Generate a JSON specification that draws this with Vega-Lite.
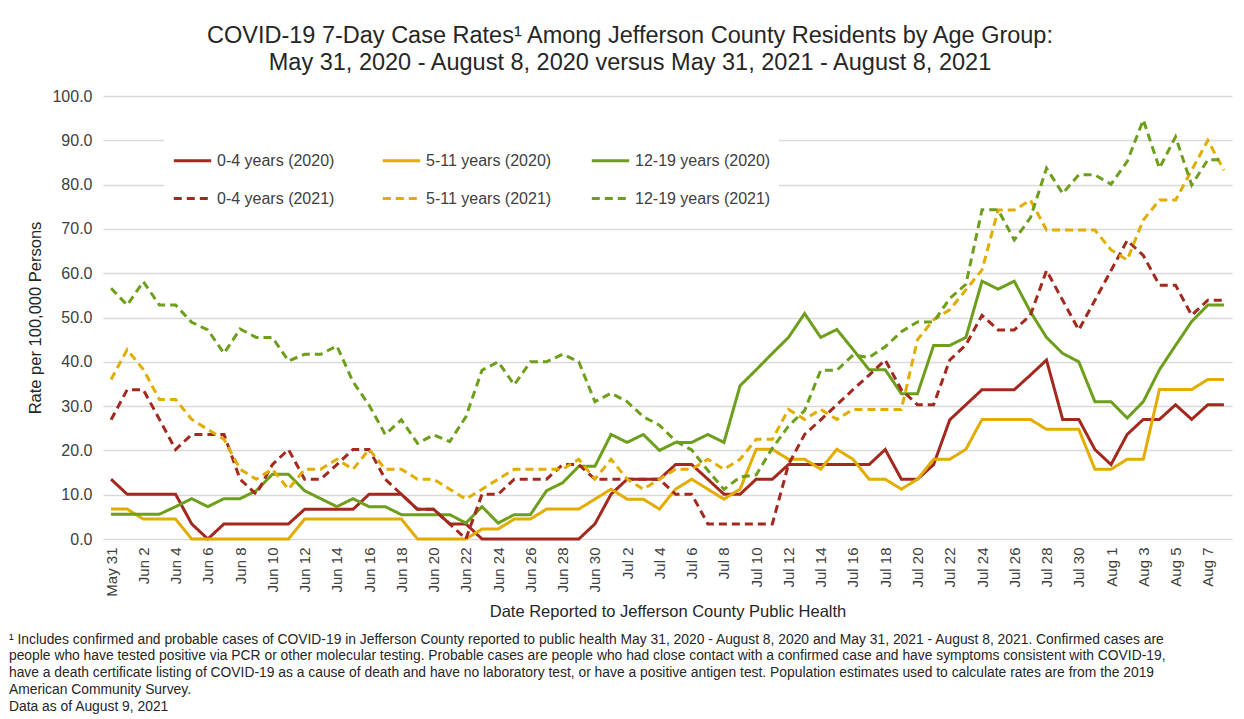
{
  "$schema": "https://vega.github.io/schema/vega-lite/v6.json",
  "padding": {"left": 8, "top": 23, "right": 5, "bottom": 5},
  "config": {"view": {"stroke": null}, "font": "Liberation Sans"},
  "title": {
    "text": [
      "¹ Includes confirmed and probable cases of COVID-19 in Jefferson County reported to public health May 31, 2020 - August 8, 2020 and May 31, 2021 - August 8, 2021. Confirmed cases are",
      "people who have tested positive via PCR or other molecular testing. Probable cases are people who had close contact with a confirmed case and have symptoms consistent with COVID-19,",
      "have a death certificate listing of COVID-19 as a cause of death and have no laboratory test, or have a positive antigen test. Population estimates used to calculate rates are from the 2019",
      "American Community Survey.",
      "Data as of August 9, 2021"
    ],
    "orient": "bottom", "anchor": "start", "frame": "bounds",
    "fontSize": 13.85, "lineHeight": 16.8, "fontWeight": "normal", "color": "#262626",
    "offset": 13, "dx": -19
  },
  "vconcat": [
    {
      "width": 1129,
      "height": 443,
      "title": {
        "text": ["COVID-19 7-Day Case Rates¹ Among Jefferson County Residents by Age Group:", "May 31, 2020 - August 8, 2020 versus May 31, 2021 - August 8, 2021"],
        "fontSize": 23.5, "lineHeight": 27, "fontWeight": "normal", "color": "#262626",
        "anchor": "middle", "frame": "bounds", "offset": 14
      },
      "data": {"values": [
{"date":"May 31","series":"0-4 years (2020)","rate":13.5},{"date":"Jun 1","series":"0-4 years (2020)","rate":10.1},{"date":"Jun 2","series":"0-4 years (2020)","rate":10.1},{"date":"Jun 3","series":"0-4 years (2020)","rate":10.1},{"date":"Jun 4","series":"0-4 years (2020)","rate":10.1},{"date":"Jun 5","series":"0-4 years (2020)","rate":3.4},{"date":"Jun 6","series":"0-4 years (2020)","rate":0},{"date":"Jun 7","series":"0-4 years (2020)","rate":3.4},{"date":"Jun 8","series":"0-4 years (2020)","rate":3.4},{"date":"Jun 9","series":"0-4 years (2020)","rate":3.4},
{"date":"Jun 10","series":"0-4 years (2020)","rate":3.4},{"date":"Jun 11","series":"0-4 years (2020)","rate":3.4},{"date":"Jun 12","series":"0-4 years (2020)","rate":6.7},{"date":"Jun 13","series":"0-4 years (2020)","rate":6.7},{"date":"Jun 14","series":"0-4 years (2020)","rate":6.7},{"date":"Jun 15","series":"0-4 years (2020)","rate":6.7},{"date":"Jun 16","series":"0-4 years (2020)","rate":10.1},{"date":"Jun 17","series":"0-4 years (2020)","rate":10.1},{"date":"Jun 18","series":"0-4 years (2020)","rate":10.1},{"date":"Jun 19","series":"0-4 years (2020)","rate":6.7},
{"date":"Jun 20","series":"0-4 years (2020)","rate":6.7},{"date":"Jun 21","series":"0-4 years (2020)","rate":3.4},{"date":"Jun 22","series":"0-4 years (2020)","rate":3.4},{"date":"Jun 23","series":"0-4 years (2020)","rate":0},{"date":"Jun 24","series":"0-4 years (2020)","rate":0},{"date":"Jun 25","series":"0-4 years (2020)","rate":0},{"date":"Jun 26","series":"0-4 years (2020)","rate":0},{"date":"Jun 27","series":"0-4 years (2020)","rate":0},{"date":"Jun 28","series":"0-4 years (2020)","rate":0},{"date":"Jun 29","series":"0-4 years (2020)","rate":0},
{"date":"Jun 30","series":"0-4 years (2020)","rate":3.4},{"date":"Jul 1","series":"0-4 years (2020)","rate":10.1},{"date":"Jul 2","series":"0-4 years (2020)","rate":13.5},{"date":"Jul 3","series":"0-4 years (2020)","rate":13.5},{"date":"Jul 4","series":"0-4 years (2020)","rate":13.5},{"date":"Jul 5","series":"0-4 years (2020)","rate":16.8},{"date":"Jul 6","series":"0-4 years (2020)","rate":16.8},{"date":"Jul 7","series":"0-4 years (2020)","rate":13.5},{"date":"Jul 8","series":"0-4 years (2020)","rate":10.1},{"date":"Jul 9","series":"0-4 years (2020)","rate":10.1},
{"date":"Jul 10","series":"0-4 years (2020)","rate":13.5},{"date":"Jul 11","series":"0-4 years (2020)","rate":13.5},{"date":"Jul 12","series":"0-4 years (2020)","rate":16.8},{"date":"Jul 13","series":"0-4 years (2020)","rate":16.8},{"date":"Jul 14","series":"0-4 years (2020)","rate":16.8},{"date":"Jul 15","series":"0-4 years (2020)","rate":16.8},{"date":"Jul 16","series":"0-4 years (2020)","rate":16.8},{"date":"Jul 17","series":"0-4 years (2020)","rate":16.8},{"date":"Jul 18","series":"0-4 years (2020)","rate":20.2},{"date":"Jul 19","series":"0-4 years (2020)","rate":13.5},
{"date":"Jul 20","series":"0-4 years (2020)","rate":13.5},{"date":"Jul 21","series":"0-4 years (2020)","rate":16.8},{"date":"Jul 22","series":"0-4 years (2020)","rate":26.9},{"date":"Jul 23","series":"0-4 years (2020)","rate":30.3},{"date":"Jul 24","series":"0-4 years (2020)","rate":33.7},{"date":"Jul 25","series":"0-4 years (2020)","rate":33.7},{"date":"Jul 26","series":"0-4 years (2020)","rate":33.7},{"date":"Jul 27","series":"0-4 years (2020)","rate":37.0},{"date":"Jul 28","series":"0-4 years (2020)","rate":40.4},{"date":"Jul 29","series":"0-4 years (2020)","rate":27.0},
{"date":"Jul 30","series":"0-4 years (2020)","rate":27.0},{"date":"Jul 31","series":"0-4 years (2020)","rate":20.2},{"date":"Aug 1","series":"0-4 years (2020)","rate":16.8},{"date":"Aug 2","series":"0-4 years (2020)","rate":23.6},{"date":"Aug 3","series":"0-4 years (2020)","rate":27.0},{"date":"Aug 4","series":"0-4 years (2020)","rate":27.0},{"date":"Aug 5","series":"0-4 years (2020)","rate":30.3},{"date":"Aug 6","series":"0-4 years (2020)","rate":27.0},{"date":"Aug 7","series":"0-4 years (2020)","rate":30.3},{"date":"Aug 8","series":"0-4 years (2020)","rate":30.3},

{"date":"May 31","series":"5-11 years (2020)","rate":6.75},{"date":"Jun 1","series":"5-11 years (2020)","rate":6.75},{"date":"Jun 2","series":"5-11 years (2020)","rate":4.5},{"date":"Jun 3","series":"5-11 years (2020)","rate":4.5},{"date":"Jun 4","series":"5-11 years (2020)","rate":4.5},{"date":"Jun 5","series":"5-11 years (2020)","rate":0},{"date":"Jun 6","series":"5-11 years (2020)","rate":0},{"date":"Jun 7","series":"5-11 years (2020)","rate":0},{"date":"Jun 8","series":"5-11 years (2020)","rate":0},{"date":"Jun 9","series":"5-11 years (2020)","rate":0},
{"date":"Jun 10","series":"5-11 years (2020)","rate":0},{"date":"Jun 11","series":"5-11 years (2020)","rate":0},{"date":"Jun 12","series":"5-11 years (2020)","rate":4.5},{"date":"Jun 13","series":"5-11 years (2020)","rate":4.5},{"date":"Jun 14","series":"5-11 years (2020)","rate":4.5},{"date":"Jun 15","series":"5-11 years (2020)","rate":4.5},{"date":"Jun 16","series":"5-11 years (2020)","rate":4.5},{"date":"Jun 17","series":"5-11 years (2020)","rate":4.5},{"date":"Jun 18","series":"5-11 years (2020)","rate":4.5},{"date":"Jun 19","series":"5-11 years (2020)","rate":0},
{"date":"Jun 20","series":"5-11 years (2020)","rate":0},{"date":"Jun 21","series":"5-11 years (2020)","rate":0},{"date":"Jun 22","series":"5-11 years (2020)","rate":0},{"date":"Jun 23","series":"5-11 years (2020)","rate":2.25},{"date":"Jun 24","series":"5-11 years (2020)","rate":2.25},{"date":"Jun 25","series":"5-11 years (2020)","rate":4.5},{"date":"Jun 26","series":"5-11 years (2020)","rate":4.5},{"date":"Jun 27","series":"5-11 years (2020)","rate":6.75},{"date":"Jun 28","series":"5-11 years (2020)","rate":6.75},{"date":"Jun 29","series":"5-11 years (2020)","rate":6.75},
{"date":"Jun 30","series":"5-11 years (2020)","rate":9.0},{"date":"Jul 1","series":"5-11 years (2020)","rate":11.25},{"date":"Jul 2","series":"5-11 years (2020)","rate":9.0},{"date":"Jul 3","series":"5-11 years (2020)","rate":9.0},{"date":"Jul 4","series":"5-11 years (2020)","rate":6.75},{"date":"Jul 5","series":"5-11 years (2020)","rate":11.25},{"date":"Jul 6","series":"5-11 years (2020)","rate":13.5},{"date":"Jul 7","series":"5-11 years (2020)","rate":11.25},{"date":"Jul 8","series":"5-11 years (2020)","rate":9.0},{"date":"Jul 9","series":"5-11 years (2020)","rate":11.25},
{"date":"Jul 10","series":"5-11 years (2020)","rate":20.25},{"date":"Jul 11","series":"5-11 years (2020)","rate":20.25},{"date":"Jul 12","series":"5-11 years (2020)","rate":18.0},{"date":"Jul 13","series":"5-11 years (2020)","rate":18.0},{"date":"Jul 14","series":"5-11 years (2020)","rate":15.75},{"date":"Jul 15","series":"5-11 years (2020)","rate":20.25},{"date":"Jul 16","series":"5-11 years (2020)","rate":18.0},{"date":"Jul 17","series":"5-11 years (2020)","rate":13.5},{"date":"Jul 18","series":"5-11 years (2020)","rate":13.5},{"date":"Jul 19","series":"5-11 years (2020)","rate":11.25},
{"date":"Jul 20","series":"5-11 years (2020)","rate":13.5},{"date":"Jul 21","series":"5-11 years (2020)","rate":18.0},{"date":"Jul 22","series":"5-11 years (2020)","rate":18.0},{"date":"Jul 23","series":"5-11 years (2020)","rate":20.25},{"date":"Jul 24","series":"5-11 years (2020)","rate":27.0},{"date":"Jul 25","series":"5-11 years (2020)","rate":27.0},{"date":"Jul 26","series":"5-11 years (2020)","rate":27.0},{"date":"Jul 27","series":"5-11 years (2020)","rate":27.0},{"date":"Jul 28","series":"5-11 years (2020)","rate":24.75},{"date":"Jul 29","series":"5-11 years (2020)","rate":24.75},
{"date":"Jul 30","series":"5-11 years (2020)","rate":24.75},{"date":"Jul 31","series":"5-11 years (2020)","rate":15.75},{"date":"Aug 1","series":"5-11 years (2020)","rate":15.75},{"date":"Aug 2","series":"5-11 years (2020)","rate":18.0},{"date":"Aug 3","series":"5-11 years (2020)","rate":18.0},{"date":"Aug 4","series":"5-11 years (2020)","rate":33.75},{"date":"Aug 5","series":"5-11 years (2020)","rate":33.75},{"date":"Aug 6","series":"5-11 years (2020)","rate":33.75},{"date":"Aug 7","series":"5-11 years (2020)","rate":36.0},{"date":"Aug 8","series":"5-11 years (2020)","rate":36.0},

{"date":"May 31","series":"12-19 years (2020)","rate":5.6},{"date":"Jun 1","series":"12-19 years (2020)","rate":5.6},{"date":"Jun 2","series":"12-19 years (2020)","rate":5.6},{"date":"Jun 3","series":"12-19 years (2020)","rate":5.6},{"date":"Jun 4","series":"12-19 years (2020)","rate":7.3},{"date":"Jun 5","series":"12-19 years (2020)","rate":9.1},{"date":"Jun 6","series":"12-19 years (2020)","rate":7.3},{"date":"Jun 7","series":"12-19 years (2020)","rate":9.1},{"date":"Jun 8","series":"12-19 years (2020)","rate":9.1},{"date":"Jun 9","series":"12-19 years (2020)","rate":10.9},
{"date":"Jun 10","series":"12-19 years (2020)","rate":14.6},{"date":"Jun 11","series":"12-19 years (2020)","rate":14.6},{"date":"Jun 12","series":"12-19 years (2020)","rate":10.9},{"date":"Jun 13","series":"12-19 years (2020)","rate":9.1},{"date":"Jun 14","series":"12-19 years (2020)","rate":7.3},{"date":"Jun 15","series":"12-19 years (2020)","rate":9.1},{"date":"Jun 16","series":"12-19 years (2020)","rate":7.3},{"date":"Jun 17","series":"12-19 years (2020)","rate":7.3},{"date":"Jun 18","series":"12-19 years (2020)","rate":5.5},{"date":"Jun 19","series":"12-19 years (2020)","rate":5.5},
{"date":"Jun 20","series":"12-19 years (2020)","rate":5.5},{"date":"Jun 21","series":"12-19 years (2020)","rate":5.5},{"date":"Jun 22","series":"12-19 years (2020)","rate":3.6},{"date":"Jun 23","series":"12-19 years (2020)","rate":7.3},{"date":"Jun 24","series":"12-19 years (2020)","rate":3.6},{"date":"Jun 25","series":"12-19 years (2020)","rate":5.5},{"date":"Jun 26","series":"12-19 years (2020)","rate":5.5},{"date":"Jun 27","series":"12-19 years (2020)","rate":10.9},{"date":"Jun 28","series":"12-19 years (2020)","rate":12.7},{"date":"Jun 29","series":"12-19 years (2020)","rate":16.4},
{"date":"Jun 30","series":"12-19 years (2020)","rate":16.4},{"date":"Jul 1","series":"12-19 years (2020)","rate":23.6},{"date":"Jul 2","series":"12-19 years (2020)","rate":21.8},{"date":"Jul 3","series":"12-19 years (2020)","rate":23.6},{"date":"Jul 4","series":"12-19 years (2020)","rate":20.0},{"date":"Jul 5","series":"12-19 years (2020)","rate":21.8},{"date":"Jul 6","series":"12-19 years (2020)","rate":21.8},{"date":"Jul 7","series":"12-19 years (2020)","rate":23.6},{"date":"Jul 8","series":"12-19 years (2020)","rate":21.8},{"date":"Jul 9","series":"12-19 years (2020)","rate":34.6},
{"date":"Jul 10","series":"12-19 years (2020)","rate":38.2},{"date":"Jul 11","series":"12-19 years (2020)","rate":41.9},{"date":"Jul 12","series":"12-19 years (2020)","rate":45.5},{"date":"Jul 13","series":"12-19 years (2020)","rate":50.9},{"date":"Jul 14","series":"12-19 years (2020)","rate":45.5},{"date":"Jul 15","series":"12-19 years (2020)","rate":47.3},{"date":"Jul 16","series":"12-19 years (2020)","rate":42.8},{"date":"Jul 17","series":"12-19 years (2020)","rate":38.2},{"date":"Jul 18","series":"12-19 years (2020)","rate":38.2},{"date":"Jul 19","series":"12-19 years (2020)","rate":32.8},
{"date":"Jul 20","series":"12-19 years (2020)","rate":32.8},{"date":"Jul 21","series":"12-19 years (2020)","rate":43.7},{"date":"Jul 22","series":"12-19 years (2020)","rate":43.7},{"date":"Jul 23","series":"12-19 years (2020)","rate":45.5},{"date":"Jul 24","series":"12-19 years (2020)","rate":58.2},{"date":"Jul 25","series":"12-19 years (2020)","rate":56.4},{"date":"Jul 26","series":"12-19 years (2020)","rate":58.2},{"date":"Jul 27","series":"12-19 years (2020)","rate":51.3},{"date":"Jul 28","series":"12-19 years (2020)","rate":45.5},{"date":"Jul 29","series":"12-19 years (2020)","rate":41.9},
{"date":"Jul 30","series":"12-19 years (2020)","rate":40.0},{"date":"Jul 31","series":"12-19 years (2020)","rate":31.0},{"date":"Aug 1","series":"12-19 years (2020)","rate":31.0},{"date":"Aug 2","series":"12-19 years (2020)","rate":27.3},{"date":"Aug 3","series":"12-19 years (2020)","rate":31.0},{"date":"Aug 4","series":"12-19 years (2020)","rate":38.2},{"date":"Aug 5","series":"12-19 years (2020)","rate":43.7},{"date":"Aug 6","series":"12-19 years (2020)","rate":49.1},{"date":"Aug 7","series":"12-19 years (2020)","rate":52.8},{"date":"Aug 8","series":"12-19 years (2020)","rate":52.8},

{"date":"May 31","series":"0-4 years (2021)","rate":26.9},{"date":"Jun 1","series":"0-4 years (2021)","rate":33.7},{"date":"Jun 2","series":"0-4 years (2021)","rate":33.7},{"date":"Jun 3","series":"0-4 years (2021)","rate":27.0},{"date":"Jun 4","series":"0-4 years (2021)","rate":20.2},{"date":"Jun 5","series":"0-4 years (2021)","rate":23.6},{"date":"Jun 6","series":"0-4 years (2021)","rate":23.6},{"date":"Jun 7","series":"0-4 years (2021)","rate":23.6},{"date":"Jun 8","series":"0-4 years (2021)","rate":13.5},{"date":"Jun 9","series":"0-4 years (2021)","rate":10.1},
{"date":"Jun 10","series":"0-4 years (2021)","rate":16.8},{"date":"Jun 11","series":"0-4 years (2021)","rate":20.2},{"date":"Jun 12","series":"0-4 years (2021)","rate":13.5},{"date":"Jun 13","series":"0-4 years (2021)","rate":13.5},{"date":"Jun 14","series":"0-4 years (2021)","rate":16.8},{"date":"Jun 15","series":"0-4 years (2021)","rate":20.2},{"date":"Jun 16","series":"0-4 years (2021)","rate":20.2},{"date":"Jun 17","series":"0-4 years (2021)","rate":13.5},{"date":"Jun 18","series":"0-4 years (2021)","rate":10.1},{"date":"Jun 19","series":"0-4 years (2021)","rate":6.7},
{"date":"Jun 20","series":"0-4 years (2021)","rate":6.7},{"date":"Jun 21","series":"0-4 years (2021)","rate":3.4},{"date":"Jun 22","series":"0-4 years (2021)","rate":0},{"date":"Jun 23","series":"0-4 years (2021)","rate":10.1},{"date":"Jun 24","series":"0-4 years (2021)","rate":10.1},{"date":"Jun 25","series":"0-4 years (2021)","rate":13.5},{"date":"Jun 26","series":"0-4 years (2021)","rate":13.5},{"date":"Jun 27","series":"0-4 years (2021)","rate":13.5},{"date":"Jun 28","series":"0-4 years (2021)","rate":16.8},{"date":"Jun 29","series":"0-4 years (2021)","rate":16.8},
{"date":"Jun 30","series":"0-4 years (2021)","rate":13.5},{"date":"Jul 1","series":"0-4 years (2021)","rate":13.5},{"date":"Jul 2","series":"0-4 years (2021)","rate":13.5},{"date":"Jul 3","series":"0-4 years (2021)","rate":13.5},{"date":"Jul 4","series":"0-4 years (2021)","rate":13.5},{"date":"Jul 5","series":"0-4 years (2021)","rate":10.1},{"date":"Jul 6","series":"0-4 years (2021)","rate":10.1},{"date":"Jul 7","series":"0-4 years (2021)","rate":3.4},{"date":"Jul 8","series":"0-4 years (2021)","rate":3.4},{"date":"Jul 9","series":"0-4 years (2021)","rate":3.4},
{"date":"Jul 10","series":"0-4 years (2021)","rate":3.4},{"date":"Jul 11","series":"0-4 years (2021)","rate":3.4},{"date":"Jul 12","series":"0-4 years (2021)","rate":16.8},{"date":"Jul 13","series":"0-4 years (2021)","rate":23.6},{"date":"Jul 14","series":"0-4 years (2021)","rate":26.9},{"date":"Jul 15","series":"0-4 years (2021)","rate":30.3},{"date":"Jul 16","series":"0-4 years (2021)","rate":33.7},{"date":"Jul 17","series":"0-4 years (2021)","rate":37.0},{"date":"Jul 18","series":"0-4 years (2021)","rate":40.4},{"date":"Jul 19","series":"0-4 years (2021)","rate":33.7},
{"date":"Jul 20","series":"0-4 years (2021)","rate":30.3},{"date":"Jul 21","series":"0-4 years (2021)","rate":30.3},{"date":"Jul 22","series":"0-4 years (2021)","rate":40.4},{"date":"Jul 23","series":"0-4 years (2021)","rate":43.8},{"date":"Jul 24","series":"0-4 years (2021)","rate":50.5},{"date":"Jul 25","series":"0-4 years (2021)","rate":47.2},{"date":"Jul 26","series":"0-4 years (2021)","rate":47.2},{"date":"Jul 27","series":"0-4 years (2021)","rate":50.5},{"date":"Jul 28","series":"0-4 years (2021)","rate":60.6},{"date":"Jul 29","series":"0-4 years (2021)","rate":53.9},
{"date":"Jul 30","series":"0-4 years (2021)","rate":47.2},{"date":"Jul 31","series":"0-4 years (2021)","rate":53.9},{"date":"Aug 1","series":"0-4 years (2021)","rate":60.6},{"date":"Aug 2","series":"0-4 years (2021)","rate":67.4},{"date":"Aug 3","series":"0-4 years (2021)","rate":64.0},{"date":"Aug 4","series":"0-4 years (2021)","rate":57.3},{"date":"Aug 5","series":"0-4 years (2021)","rate":57.3},{"date":"Aug 6","series":"0-4 years (2021)","rate":50.5},{"date":"Aug 7","series":"0-4 years (2021)","rate":53.9},{"date":"Aug 8","series":"0-4 years (2021)","rate":53.9},

{"date":"May 31","series":"5-11 years (2021)","rate":36.0},{"date":"Jun 1","series":"5-11 years (2021)","rate":42.75},{"date":"Jun 2","series":"5-11 years (2021)","rate":38.25},{"date":"Jun 3","series":"5-11 years (2021)","rate":31.5},{"date":"Jun 4","series":"5-11 years (2021)","rate":31.5},{"date":"Jun 5","series":"5-11 years (2021)","rate":27.0},{"date":"Jun 6","series":"5-11 years (2021)","rate":24.75},{"date":"Jun 7","series":"5-11 years (2021)","rate":22.5},{"date":"Jun 8","series":"5-11 years (2021)","rate":15.75},{"date":"Jun 9","series":"5-11 years (2021)","rate":13.5},
{"date":"Jun 10","series":"5-11 years (2021)","rate":15.75},{"date":"Jun 11","series":"5-11 years (2021)","rate":11.25},{"date":"Jun 12","series":"5-11 years (2021)","rate":15.75},{"date":"Jun 13","series":"5-11 years (2021)","rate":15.75},{"date":"Jun 14","series":"5-11 years (2021)","rate":18.0},{"date":"Jun 15","series":"5-11 years (2021)","rate":15.75},{"date":"Jun 16","series":"5-11 years (2021)","rate":20.25},{"date":"Jun 17","series":"5-11 years (2021)","rate":15.75},{"date":"Jun 18","series":"5-11 years (2021)","rate":15.75},{"date":"Jun 19","series":"5-11 years (2021)","rate":13.5},
{"date":"Jun 20","series":"5-11 years (2021)","rate":13.5},{"date":"Jun 21","series":"5-11 years (2021)","rate":11.25},{"date":"Jun 22","series":"5-11 years (2021)","rate":9.0},{"date":"Jun 23","series":"5-11 years (2021)","rate":11.25},{"date":"Jun 24","series":"5-11 years (2021)","rate":13.5},{"date":"Jun 25","series":"5-11 years (2021)","rate":15.75},{"date":"Jun 26","series":"5-11 years (2021)","rate":15.75},{"date":"Jun 27","series":"5-11 years (2021)","rate":15.75},{"date":"Jun 28","series":"5-11 years (2021)","rate":15.75},{"date":"Jun 29","series":"5-11 years (2021)","rate":18.0},
{"date":"Jun 30","series":"5-11 years (2021)","rate":13.5},{"date":"Jul 1","series":"5-11 years (2021)","rate":18.0},{"date":"Jul 2","series":"5-11 years (2021)","rate":13.5},{"date":"Jul 3","series":"5-11 years (2021)","rate":11.25},{"date":"Jul 4","series":"5-11 years (2021)","rate":13.5},{"date":"Jul 5","series":"5-11 years (2021)","rate":15.75},{"date":"Jul 6","series":"5-11 years (2021)","rate":15.75},{"date":"Jul 7","series":"5-11 years (2021)","rate":18.0},{"date":"Jul 8","series":"5-11 years (2021)","rate":15.75},{"date":"Jul 9","series":"5-11 years (2021)","rate":18.0},
{"date":"Jul 10","series":"5-11 years (2021)","rate":22.5},{"date":"Jul 11","series":"5-11 years (2021)","rate":22.5},{"date":"Jul 12","series":"5-11 years (2021)","rate":29.25},{"date":"Jul 13","series":"5-11 years (2021)","rate":27.0},{"date":"Jul 14","series":"5-11 years (2021)","rate":29.25},{"date":"Jul 15","series":"5-11 years (2021)","rate":27.0},{"date":"Jul 16","series":"5-11 years (2021)","rate":29.25},{"date":"Jul 17","series":"5-11 years (2021)","rate":29.25},{"date":"Jul 18","series":"5-11 years (2021)","rate":29.25},{"date":"Jul 19","series":"5-11 years (2021)","rate":29.25},
{"date":"Jul 20","series":"5-11 years (2021)","rate":45.0},{"date":"Jul 21","series":"5-11 years (2021)","rate":49.5},{"date":"Jul 22","series":"5-11 years (2021)","rate":51.75},{"date":"Jul 23","series":"5-11 years (2021)","rate":56.25},{"date":"Jul 24","series":"5-11 years (2021)","rate":60.75},{"date":"Jul 25","series":"5-11 years (2021)","rate":74.25},{"date":"Jul 26","series":"5-11 years (2021)","rate":74.25},{"date":"Jul 27","series":"5-11 years (2021)","rate":76.5},{"date":"Jul 28","series":"5-11 years (2021)","rate":69.75},{"date":"Jul 29","series":"5-11 years (2021)","rate":69.75},
{"date":"Jul 30","series":"5-11 years (2021)","rate":69.75},{"date":"Jul 31","series":"5-11 years (2021)","rate":69.75},{"date":"Aug 1","series":"5-11 years (2021)","rate":65.25},{"date":"Aug 2","series":"5-11 years (2021)","rate":63.0},{"date":"Aug 3","series":"5-11 years (2021)","rate":72.0},{"date":"Aug 4","series":"5-11 years (2021)","rate":76.5},{"date":"Aug 5","series":"5-11 years (2021)","rate":76.5},{"date":"Aug 6","series":"5-11 years (2021)","rate":83.25},{"date":"Aug 7","series":"5-11 years (2021)","rate":90.0},{"date":"Aug 8","series":"5-11 years (2021)","rate":83.25},

{"date":"May 31","series":"12-19 years (2021)","rate":56.6},{"date":"Jun 1","series":"12-19 years (2021)","rate":52.8},{"date":"Jun 2","series":"12-19 years (2021)","rate":58.1},{"date":"Jun 3","series":"12-19 years (2021)","rate":52.8},{"date":"Jun 4","series":"12-19 years (2021)","rate":52.8},{"date":"Jun 5","series":"12-19 years (2021)","rate":48.9},{"date":"Jun 6","series":"12-19 years (2021)","rate":47.2},{"date":"Jun 7","series":"12-19 years (2021)","rate":41.9},{"date":"Jun 8","series":"12-19 years (2021)","rate":47.4},{"date":"Jun 9","series":"12-19 years (2021)","rate":45.5},
{"date":"Jun 10","series":"12-19 years (2021)","rate":45.5},{"date":"Jun 11","series":"12-19 years (2021)","rate":40.2},{"date":"Jun 12","series":"12-19 years (2021)","rate":41.7},{"date":"Jun 13","series":"12-19 years (2021)","rate":41.7},{"date":"Jun 14","series":"12-19 years (2021)","rate":43.6},{"date":"Jun 15","series":"12-19 years (2021)","rate":35.5},{"date":"Jun 16","series":"12-19 years (2021)","rate":30.2},{"date":"Jun 17","series":"12-19 years (2021)","rate":23.6},{"date":"Jun 18","series":"12-19 years (2021)","rate":26.9},{"date":"Jun 19","series":"12-19 years (2021)","rate":21.6},
{"date":"Jun 20","series":"12-19 years (2021)","rate":23.5},{"date":"Jun 21","series":"12-19 years (2021)","rate":22.0},{"date":"Jun 22","series":"12-19 years (2021)","rate":27.6},{"date":"Jun 23","series":"12-19 years (2021)","rate":38.1},{"date":"Jun 24","series":"12-19 years (2021)","rate":40.0},{"date":"Jun 25","series":"12-19 years (2021)","rate":34.8},{"date":"Jun 26","series":"12-19 years (2021)","rate":40.0},{"date":"Jun 27","series":"12-19 years (2021)","rate":40.0},{"date":"Jun 28","series":"12-19 years (2021)","rate":41.7},{"date":"Jun 29","series":"12-19 years (2021)","rate":40.0},
{"date":"Jun 30","series":"12-19 years (2021)","rate":31.0},{"date":"Jul 1","series":"12-19 years (2021)","rate":32.9},{"date":"Jul 2","series":"12-19 years (2021)","rate":31.0},{"date":"Jul 3","series":"12-19 years (2021)","rate":27.6},{"date":"Jul 4","series":"12-19 years (2021)","rate":25.7},{"date":"Jul 5","series":"12-19 years (2021)","rate":22.1},{"date":"Jul 6","series":"12-19 years (2021)","rate":20.1},{"date":"Jul 7","series":"12-19 years (2021)","rate":15.5},{"date":"Jul 8","series":"12-19 years (2021)","rate":11.2},{"date":"Jul 9","series":"12-19 years (2021)","rate":14.0},
{"date":"Jul 10","series":"12-19 years (2021)","rate":14.5},{"date":"Jul 11","series":"12-19 years (2021)","rate":20.5},{"date":"Jul 12","series":"12-19 years (2021)","rate":25.5},{"date":"Jul 13","series":"12-19 years (2021)","rate":29.0},{"date":"Jul 14","series":"12-19 years (2021)","rate":38.1},{"date":"Jul 15","series":"12-19 years (2021)","rate":38.1},{"date":"Jul 16","series":"12-19 years (2021)","rate":41.5},{"date":"Jul 17","series":"12-19 years (2021)","rate":41.0},{"date":"Jul 18","series":"12-19 years (2021)","rate":43.4},{"date":"Jul 19","series":"12-19 years (2021)","rate":46.8},
{"date":"Jul 20","series":"12-19 years (2021)","rate":49.0},{"date":"Jul 21","series":"12-19 years (2021)","rate":49.0},{"date":"Jul 22","series":"12-19 years (2021)","rate":54.3},{"date":"Jul 23","series":"12-19 years (2021)","rate":57.5},{"date":"Jul 24","series":"12-19 years (2021)","rate":74.3},{"date":"Jul 25","series":"12-19 years (2021)","rate":74.3},{"date":"Jul 26","series":"12-19 years (2021)","rate":67.5},{"date":"Jul 27","series":"12-19 years (2021)","rate":72.5},{"date":"Jul 28","series":"12-19 years (2021)","rate":83.7},{"date":"Jul 29","series":"12-19 years (2021)","rate":78.0},
{"date":"Jul 30","series":"12-19 years (2021)","rate":82.2},{"date":"Jul 31","series":"12-19 years (2021)","rate":82.2},{"date":"Aug 1","series":"12-19 years (2021)","rate":80.1},{"date":"Aug 2","series":"12-19 years (2021)","rate":85.2},{"date":"Aug 3","series":"12-19 years (2021)","rate":94.6},{"date":"Aug 4","series":"12-19 years (2021)","rate":83.7},{"date":"Aug 5","series":"12-19 years (2021)","rate":90.8},{"date":"Aug 6","series":"12-19 years (2021)","rate":79.9},{"date":"Aug 7","series":"12-19 years (2021)","rate":85.6},{"date":"Aug 8","series":"12-19 years (2021)","rate":85.6}
      ]},
      "mark": {"type": "line", "strokeWidth": 3},
      "encoding": {
        "x": {
          "field": "date", "type": "ordinal", "sort": null,
          "axis": {
            "title": "Date Reported to Jefferson County Public Health",
            "values": ["May 31","Jun 2","Jun 4","Jun 6","Jun 8","Jun 10","Jun 12","Jun 14","Jun 16","Jun 18","Jun 20","Jun 22","Jun 24","Jun 26","Jun 28","Jun 30","Jul 2","Jul 4","Jul 6","Jul 8","Jul 10","Jul 12","Jul 14","Jul 16","Jul 18","Jul 20","Jul 22","Jul 24","Jul 26","Jul 28","Jul 30","Aug 1","Aug 3","Aug 5","Aug 7"],
            "labelAngle": -90, "labelFontSize": 15, "labelColor": "#404040", "labelPadding": 8,
            "ticks": false, "domain": false, "grid": false,
            "titleFontSize": 16.5, "titleFontWeight": "normal", "titleColor": "#262626", "titlePadding": 7
          }
        },
        "y": {
          "field": "rate", "type": "quantitative",
          "scale": {"domain": [0, 100]},
          "axis": {
            "title": "Rate per 100,000 Persons", "values": [0,10,20,30,40,50,60,70,80,90,100], "format": ".1f",
            "labelFontSize": 16, "labelColor": "#404040", "labelPadding": 11,
            "ticks": false, "domain": false, "grid": true, "gridColor": "#D9D9D9", "gridWidth": 1.5,
            "titleFontSize": 16.5, "titleFontWeight": "normal", "titleColor": "#262626", "titlePadding": 8
          }
        },
        "color": {
          "field": "series", "type": "nominal",
          "scale": {
            "domain": ["0-4 years (2020)","0-4 years (2021)","5-11 years (2020)","5-11 years (2021)","12-19 years (2020)","12-19 years (2021)"],
            "range": ["#A3291E","#A3291E","#E2AC00","#E2AC00","#6E9F1C","#6E9F1C"]
          },
          "legend": {
            "title": null, "orient": "none", "legendX": 61, "legendY": 36, "columns": 3,
            "symbolType": "stroke", "symbolSize": 1400, "symbolStrokeWidth": 3,
            "labelFontSize": 16, "labelColor": "#404040", "labelOffset": 4,
            "fillColor": "white", "padding": 8, "columnPadding": 23, "rowPadding": 9, "gridAlign": "all"
          }
        },
        "strokeDash": {
          "field": "series", "type": "nominal",
          "scale": {
            "domain": ["0-4 years (2020)","0-4 years (2021)","5-11 years (2020)","5-11 years (2021)","12-19 years (2020)","12-19 years (2021)"],
            "range": [[1,0],[8,5],[1,0],[8,5],[1,0],[8,5]]
          },
          "legend": {
            "title": null, "orient": "none", "legendX": 61, "legendY": 36, "columns": 3,
            "symbolType": "stroke", "symbolSize": 1400, "symbolStrokeWidth": 3,
            "labelFontSize": 16, "labelColor": "#404040", "labelOffset": 4,
            "fillColor": "white", "padding": 8, "columnPadding": 23, "rowPadding": 9, "gridAlign": "all"
          }
        }
      }
    }
  ]
}
